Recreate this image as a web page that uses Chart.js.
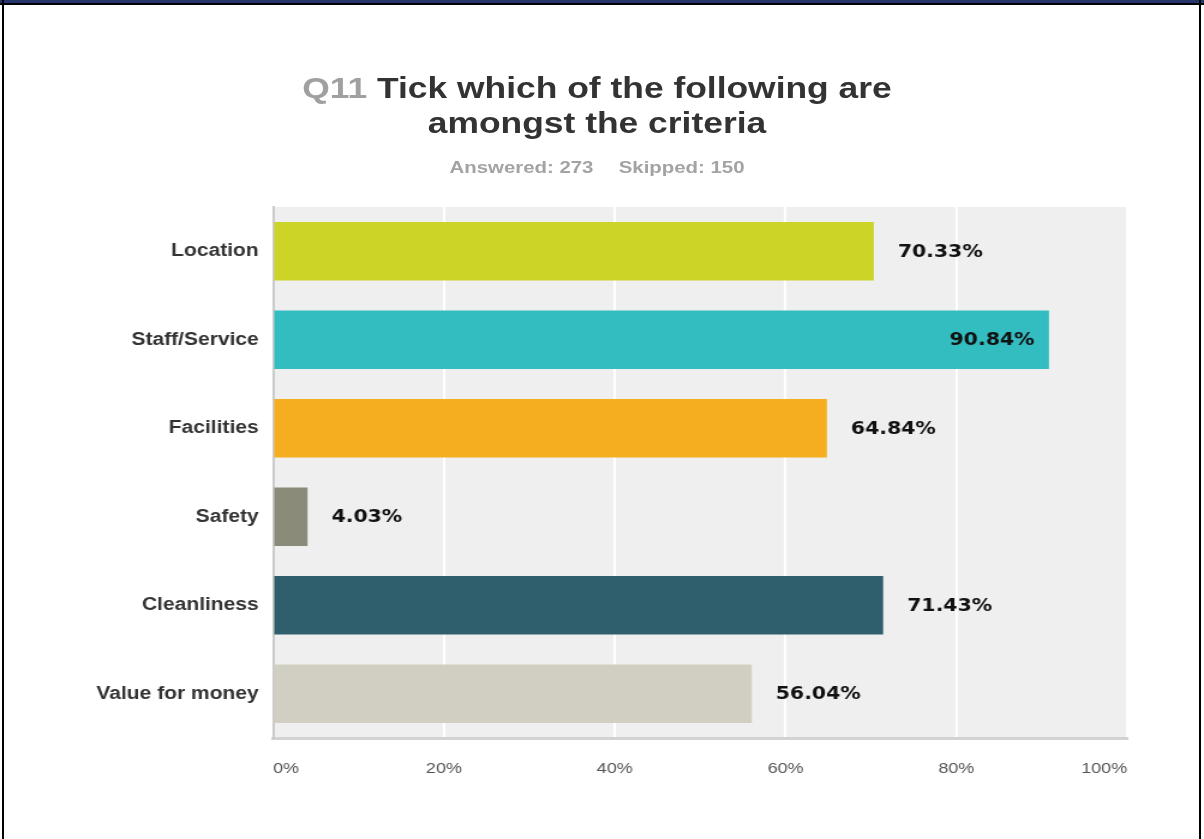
<!DOCTYPE html>
<html>
<head>
<meta charset="utf-8">
<script src="https://cdn.jsdelivr.net/npm/chart.js@4/dist/chart.umd.min.js"></script>
<style>
  html, body { margin: 0; padding: 0; background: #fff; }
  body { width: 1204px; height: 839px; position: relative; overflow: hidden; }
  #topband { position: absolute; left: 0; top: 0; width: 1204px; height: 3px; background: #26356c; }
  #topline { position: absolute; left: 0; top: 3px; width: 1204px; height: 2px; background: #000; }
  #leftline { position: absolute; left: 2px; top: 0; width: 2px; height: 839px; background: #000; }
  #rightline { position: absolute; left: 1199px; top: 0; width: 2px; height: 839px; background: #000; }
  #chart { position: absolute; left: 0; top: 0; }
  .ttl { position: absolute; left: 0; width: 1194px; text-align: center;
         font-family: "Liberation Sans", Arial, sans-serif; font-weight: bold;
         transform: scaleX(1.2); transform-origin: 597px 0; white-space: nowrap; }
  #title { top: 70px; font-size: 29.5px; line-height: 35px; color: #333; }
  #title .q { color: #a0a0a0; }
  #sub { top: 158px; font-size: 17px; line-height: 20px; color: #a3a3a3; }
</style>
</head>
<body>
<canvas id="chart" width="1003" height="839" style="width:1204px;height:839px"></canvas>
<div id="title" class="ttl"><span class="q">Q11</span> Tick which of the following are<br>amongst the criteria</div>
<div id="sub" class="ttl">Answered: 273<span style="display:inline-block;width:21px"></span>Skipped: 150</div>
<div id="topband"></div><div id="topline"></div><div id="leftline"></div><div id="rightline"></div>
<script>
const categories = ["Location", "Staff/Service", "Facilities", "Safety", "Cleanliness", "Value for money"];
const values = [70.33, 90.84, 64.84, 4.03, 71.43, 56.04];
const barColors = ["#cdd428", "#33bdc0", "#f5ae1f", "#8b8b7a", "#2f5f6c", "#d1cfc2"];
const tickValues = [0, 20, 40, 60, 80, 100];

const plotBg = {
  id: 'plotBg',
  beforeDraw(chart) {
    const {ctx, chartArea: a} = chart;
    ctx.save();
    ctx.fillStyle = '#efefef';
    ctx.fillRect(a.left, a.top, a.right - a.left, a.bottom - a.top);
    ctx.restore();
  }
};

const barLabels = {
  id: 'barLabels',
  afterDatasetsDraw(chart) {
    const {ctx} = chart;
    const meta = chart.getDatasetMeta(0);
    ctx.save();
    ctx.font = 'bold 17px "DejaVu Sans", Verdana, sans-serif';
    ctx.fillStyle = '#111';
    ctx.textBaseline = 'middle';
    meta.data.forEach((bar, i) => {
      const v = values[i];
      const txt = v.toFixed(2) + '%';
      if (v > 85) {
        ctx.textAlign = 'right';
        ctx.fillText(txt, bar.x - 12, bar.y + 1);
      } else {
        ctx.textAlign = 'left';
        ctx.fillText(txt, bar.x + 20, bar.y + 1);
      }
    });
    ctx.restore();
  }
};

new Chart(document.getElementById('chart'), {
  type: 'bar',
  data: {
    labels: categories,
    datasets: [{
      data: values,
      backgroundColor: barColors,
      borderWidth: 0,
      barPercentage: 0.66,
      categoryPercentage: 1.0
    }]
  },
  options: {
    indexAxis: 'y',
    responsive: false,
    animation: false,
    devicePixelRatio: 1,
    layout: { padding: { top: 207, right: 64, left: 0, bottom: 0 } },
    plugins: { legend: { display: false }, tooltip: { enabled: false } },
    scales: {
      x: {
        min: 0, max: 100,
        afterFit(scale) { scale.height = 101; },
        afterBuildTicks(scale) { scale.ticks = tickValues.map(v => ({ value: v })); },
        grid: {
          color: (c) => (c.tick && c.tick.value === 0) ? 'rgba(0,0,0,0)' : '#ffffff',
          lineWidth: 2,
          drawTicks: false
        },
        border: { display: true, color: '#d2d2d2', width: 3 },
        ticks: {
          align: 'inner',
          padding: 22,
          color: '#555',
          font: { family: '"Liberation Sans", Arial, sans-serif', size: 15 },
          callback: (v) => v + '%'
        }
      },
      y: {
        afterFit(scale) { scale.width = 227.5; },
        grid: { display: false, drawTicks: false },
        border: { display: true, color: '#cbcbcb', width: 2 },
        ticks: {
          padding: 12,
          color: '#333',
          font: { family: '"Liberation Sans", Arial, sans-serif', size: 17.5, weight: 'bold' }
        }
      }
    }
  },
  plugins: [plotBg, barLabels]
});
</script>
</body>
</html>
